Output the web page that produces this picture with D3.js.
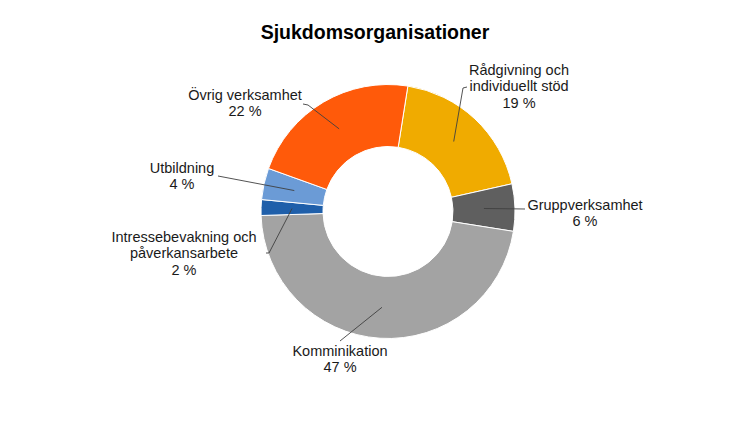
<!DOCTYPE html>
<html><head><meta charset="utf-8">
<script src="https://cdn.jsdelivr.net/npm/d3@7"></script>
<style>body{margin:0;background:#fff}svg{display:block}text{font-family:"Liberation Sans",Arial,sans-serif}</style>
</head><body><svg id="c" width="750" height="436"></svg>
<script>
const title = "Sjukdomsorganisationer";
const categories = [
  ["Rådgivning och","individuellt stöd"],
  ["Gruppverksamhet"],
  ["Komminikation"],
  ["Intressebevakning och","påverkansarbete"],
  ["Utbildning"],
  ["Övrig verksamhet"]
];
const values = [19, 6, 47, 2, 4, 22];
const valueLabels = ["19 %","6 %","47 %","2 %","4 %","22 %"];
const colors = ["#F0AB00","#5F5F5F","#A3A3A3","#1F5FAA","#6B9BD6","#FF5A0A"];

// layout for labels (text centre x, first baseline y, leader start points)
const labelLayout = [
  {x:519, y:75, lead:[[467,87],[463,88]]},
  {x:585, y:210, lead:[[525,209]]},
  {x:340, y:356, lead:[[340,341]]},
  {x:184, y:242, lead:[[266,253],[269,253]]},
  {x:182, y:173, lead:[[218,176]]},
  {x:245, y:100, lead:[[303,104],[308,105]]}
];

const svg = d3.select("#c");
const cx = 388, cy = 211.5, R = 127, r = 65;
const start = 9 * Math.PI / 180;
const pie = d3.pie().sort(null).value(d => d).startAngle(start).endAngle(start + 2 * Math.PI);
const arcs = pie(values);
const arc = d3.arc().innerRadius(r).outerRadius(R);
const mid = d3.arc().innerRadius(96).outerRadius(96);

svg.append("text").attr("x", 375).attr("y", 39).attr("text-anchor","middle")
  .attr("font-size", 19.5).attr("font-weight","bold").attr("fill","#000").text(title);

const g = svg.append("g").attr("transform", `translate(${cx},${cy})`);
g.selectAll("path").data(arcs).join("path")
  .attr("d", arc).attr("fill", (d,i) => colors[i])
  .attr("stroke","#fff").attr("stroke-width",1);

// leader lines
arcs.forEach((d,i) => {
  const c = mid.centroid(d);
  const pts = labelLayout[i].lead.concat([[cx + c[0], cy + c[1]]]);
  svg.append("path").attr("d", d3.line()(pts)).attr("fill","none")
    .attr("stroke","#404040").attr("stroke-width",0.9);
});

// labels
categories.forEach((lines,i) => {
  const L = labelLayout[i];
  const t = svg.append("text").attr("text-anchor","middle").attr("font-size",14.5).attr("fill","#1a1a1a");
  lines.concat([valueLabels[i]]).forEach((s,k) => {
    t.append("tspan").attr("x", L.x).attr("y", L.y + k * 16.4).text(s);
  });
});
</script></body></html>
